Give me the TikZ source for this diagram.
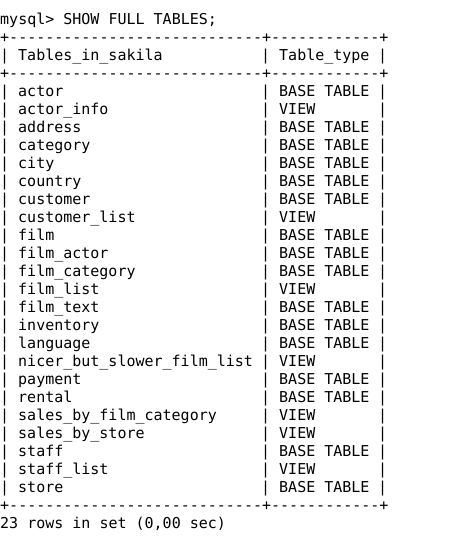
\documentclass[tikz,border=0pt]{standalone}
\usepackage{fontspec}
\setmonofont{DejaVu Sans Mono}
\usetikzlibrary{math}

\begin{document}
\begin{tikzpicture}[x=1pt, y=1pt,
    term/.style={anchor=base west, inner sep=0pt, text=black,
                 font=\ttfamily\fontsize{15}{18}\selectfont}]

  \pgfmathsetmacro{\cw}{9}
  \pgfmathsetmacro{\lh}{18}

  \useasboundingbox[fill=white] (0, 0) rectangle (450, -544);

  \node[term] (prompt) at (0, -24) {mysql> SHOW FULL TABLES;};

  % borders
  \node[term] (ruletop) at (0, -42)
    {+----------------------------+------------+};
  \node[term] (rulemid) at (0, -78)
    {+----------------------------+------------+};
  \node[term] (rulebot) at (0, -510)
    {+----------------------------+------------+};

  % header
  \node[term] (headbarl) at (0, -60) {|};
  \node[term] (headname) at (2 * \cw, -60) {Tables\_in\_sakila};
  \node[term] (headbarm) at (29 * \cw, -60) {|};
  \node[term] (headtype) at (31 * \cw, -60) {Table\_type};
  \node[term] (headbarr) at (42 * \cw, -60) {|};

  % rows
  \foreach \tname/\ttype [count=\n] in {
      actor/BASE TABLE, actor\_info/VIEW, address/BASE TABLE,
      category/BASE TABLE, city/BASE TABLE, country/BASE TABLE,
      customer/BASE TABLE, customer\_list/VIEW, film/BASE TABLE,
      film\_actor/BASE TABLE, film\_category/BASE TABLE, film\_list/VIEW,
      film\_text/BASE TABLE, inventory/BASE TABLE, language/BASE TABLE,
      nicer\_but\_slower\_film\_list/VIEW, payment/BASE TABLE,
      rental/BASE TABLE, sales\_by\_film\_category/VIEW,
      sales\_by\_store/VIEW, staff/BASE TABLE, staff\_list/VIEW,
      store/BASE TABLE} {
    \pgfmathsetmacro{\yy}{-78 - \lh * \n}
    \node[term] (barl\n) at (0, \yy) {|};
    \node[term] (name\n) at (2 * \cw, \yy) {\tname};
    \node[term] (barm\n) at (29 * \cw, \yy) {|};
    \node[term] (type\n) at (31 * \cw, \yy) {\ttype};
    \node[term] (barr\n) at (42 * \cw, \yy) {|};
  }

  \node[term] (footer) at (0, -528) {23 rows in set (0,00 sec)};

\end{tikzpicture}
\end{document}
